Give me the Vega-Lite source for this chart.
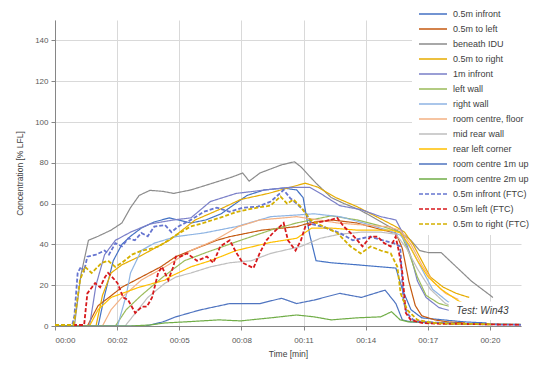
{
"$schema": "https://vega.github.io/schema/vega-lite/v6.json",
"width": 466, "height": 306,
"autosize": {"type": "none"},
"padding": {"left": 55, "top": 20, "right": 13, "bottom": 40},
"background": "white",
"config": {
 "view": {"stroke": null},
 "font": "Liberation Sans",
 "axis": {"labelFont": "Liberation Sans", "labelFontSize": 8, "labelColor": "#595959", "titleFont": "Liberation Sans", "titleFontSize": 8.5, "titleFontWeight": "normal", "titleColor": "#404040", "gridColor": "#D9D9D9", "domainColor": "#868686", "tickColor": "#868686", "tickSize": 4, "labelOverlap": false},
 "legend": {"symbolType": "M-2,0H2", "symbolSize": 196, "symbolOffset": 7, "symbolStrokeWidth": 1.3, "labelFont": "Liberation Sans", "labelFontSize": 9, "labelColor": "#404040", "labelOffset": 12, "rowPadding": 2, "padding": 6, "fillColor": "white", "labelLimit": 200}
},
"datasets": {
"series": [
{"s":"0.5m infront","t":0,"v":0},{"s":"0.5m infront","t":2.0,"v":0},{"s":"0.5m infront","t":2.3,"v":15},{"s":"0.5m infront","t":2.7,"v":32},{"s":"0.5m infront","t":3.1,"v":40},{"s":"0.5m infront","t":3.5,"v":44},{"s":"0.5m infront","t":4.0,"v":48},{"s":"0.5m infront","t":4.6,"v":51},{"s":"0.5m infront","t":5.3,"v":53},{"s":"0.5m infront","t":6.3,"v":50.5},{"s":"0.5m infront","t":7.0,"v":52},{"s":"0.5m infront","t":7.7,"v":55},{"s":"0.5m infront","t":8.9,"v":64},{"s":"0.5m infront","t":9.7,"v":66.7},{"s":"0.5m infront","t":10.6,"v":67.6},{"s":"0.5m infront","t":11.2,"v":66.7},{"s":"0.5m infront","t":11.5,"v":63},{"s":"0.5m infront","t":11.8,"v":45},{"s":"0.5m infront","t":12.1,"v":32},{"s":"0.5m infront","t":12.8,"v":31},{"s":"0.5m infront","t":14.0,"v":30},{"s":"0.5m infront","t":15.1,"v":29},{"s":"0.5m infront","t":15.8,"v":28.4},{"s":"0.5m infront","t":16.1,"v":18},{"s":"0.5m infront","t":16.5,"v":8},{"s":"0.5m infront","t":17.0,"v":4},{"s":"0.5m infront","t":18.0,"v":3},{"s":"0.5m infront","t":19.0,"v":2},{"s":"0.5m infront","t":20.0,"v":1.5},
{"s":"0.5m to left","t":0,"v":0},{"s":"0.5m to left","t":1.5,"v":0},{"s":"0.5m to left","t":2.0,"v":10},{"s":"0.5m to left","t":2.5,"v":14},{"s":"0.5m to left","t":3.1,"v":19},{"s":"0.5m to left","t":4.0,"v":24},{"s":"0.5m to left","t":4.9,"v":29},{"s":"0.5m to left","t":5.6,"v":34},{"s":"0.5m to left","t":6.3,"v":37},{"s":"0.5m to left","t":7.5,"v":42},{"s":"0.5m to left","t":8.1,"v":43.8},{"s":"0.5m to left","t":9.6,"v":47},{"s":"0.5m to left","t":11.2,"v":48.7},{"s":"0.5m to left","t":11.8,"v":50.5},{"s":"0.5m to left","t":12.8,"v":52},{"s":"0.5m to left","t":14.0,"v":50.5},{"s":"0.5m to left","t":15.2,"v":47},{"s":"0.5m to left","t":15.8,"v":45.6},{"s":"0.5m to left","t":16.1,"v":38},{"s":"0.5m to left","t":16.4,"v":22},{"s":"0.5m to left","t":16.7,"v":10},{"s":"0.5m to left","t":17.0,"v":5},{"s":"0.5m to left","t":17.6,"v":3},{"s":"0.5m to left","t":18.2,"v":2},{"s":"0.5m to left","t":19.0,"v":1.5},
{"s":"beneath IDU","t":0,"v":0},{"s":"beneath IDU","t":0.9,"v":0},{"s":"beneath IDU","t":1.2,"v":25},{"s":"beneath IDU","t":1.55,"v":42},{"s":"beneath IDU","t":2.0,"v":44},{"s":"beneath IDU","t":2.6,"v":47},{"s":"beneath IDU","t":3.1,"v":50.5},{"s":"beneath IDU","t":3.5,"v":58},{"s":"beneath IDU","t":3.9,"v":64},{"s":"beneath IDU","t":4.4,"v":66.5},{"s":"beneath IDU","t":5.0,"v":66},{"s":"beneath IDU","t":5.5,"v":65},{"s":"beneath IDU","t":6.3,"v":66.7},{"s":"beneath IDU","t":7.3,"v":70},{"s":"beneath IDU","t":8.2,"v":73},{"s":"beneath IDU","t":8.7,"v":75},{"s":"beneath IDU","t":9.0,"v":71},{"s":"beneath IDU","t":9.5,"v":75},{"s":"beneath IDU","t":10.5,"v":79},{"s":"beneath IDU","t":11.1,"v":80.5},{"s":"beneath IDU","t":11.4,"v":78},{"s":"beneath IDU","t":12.1,"v":70},{"s":"beneath IDU","t":12.8,"v":63},{"s":"beneath IDU","t":13.4,"v":60},{"s":"beneath IDU","t":14.1,"v":57},{"s":"beneath IDU","t":14.7,"v":53.6},{"s":"beneath IDU","t":15.5,"v":48.7},{"s":"beneath IDU","t":16.0,"v":46},{"s":"beneath IDU","t":16.5,"v":42},{"s":"beneath IDU","t":16.9,"v":37},{"s":"beneath IDU","t":17.3,"v":36},{"s":"beneath IDU","t":17.9,"v":36},{"s":"beneath IDU","t":18.5,"v":30},{"s":"beneath IDU","t":19.3,"v":22},{"s":"beneath IDU","t":20.3,"v":14},
{"s":"0.5m to right","t":0,"v":0},{"s":"0.5m to right","t":1.9,"v":0},{"s":"0.5m to right","t":2.2,"v":15},{"s":"0.5m to right","t":2.6,"v":26},{"s":"0.5m to right","t":3.1,"v":30},{"s":"0.5m to right","t":3.9,"v":34},{"s":"0.5m to right","t":4.6,"v":38},{"s":"0.5m to right","t":5.3,"v":42},{"s":"0.5m to right","t":6.5,"v":52},{"s":"0.5m to right","t":7.6,"v":57},{"s":"0.5m to right","t":8.6,"v":62},{"s":"0.5m to right","t":9.9,"v":65},{"s":"0.5m to right","t":10.9,"v":68},{"s":"0.5m to right","t":11.6,"v":70},{"s":"0.5m to right","t":12.2,"v":68},{"s":"0.5m to right","t":13.0,"v":63},{"s":"0.5m to right","t":14.0,"v":58.5},{"s":"0.5m to right","t":14.9,"v":53.6},{"s":"0.5m to right","t":15.8,"v":48.7},{"s":"0.5m to right","t":16.2,"v":46},{"s":"0.5m to right","t":16.6,"v":40},{"s":"0.5m to right","t":17.0,"v":32},{"s":"0.5m to right","t":17.4,"v":24},{"s":"0.5m to right","t":18.0,"v":19},{"s":"0.5m to right","t":18.6,"v":16},{"s":"0.5m to right","t":19.2,"v":14},
{"s":"1m infront","t":0,"v":0},{"s":"1m infront","t":1.6,"v":0},{"s":"1m infront","t":1.9,"v":20},{"s":"1m infront","t":2.3,"v":35},{"s":"1m infront","t":2.8,"v":42},{"s":"1m infront","t":3.5,"v":46},{"s":"1m infront","t":4.4,"v":50},{"s":"1m infront","t":5.5,"v":52},{"s":"1m infront","t":6.3,"v":53},{"s":"1m infront","t":7.2,"v":61},{"s":"1m infront","t":8.4,"v":65},{"s":"1m infront","t":9.2,"v":66},{"s":"1m infront","t":10.0,"v":67},{"s":"1m infront","t":10.9,"v":68},{"s":"1m infront","t":11.8,"v":68},{"s":"1m infront","t":12.3,"v":65},{"s":"1m infront","t":13.2,"v":59},{"s":"1m infront","t":14.2,"v":57},{"s":"1m infront","t":15.1,"v":53.6},{"s":"1m infront","t":15.8,"v":52},{"s":"1m infront","t":16.1,"v":46},{"s":"1m infront","t":16.5,"v":34},{"s":"1m infront","t":16.8,"v":22},{"s":"1m infront","t":17.2,"v":14},{"s":"1m infront","t":17.8,"v":9},{"s":"1m infront","t":18.5,"v":7},{"s":"1m infront","t":19.0,"v":6},
{"s":"left wall","t":0,"v":0},{"s":"left wall","t":2.8,"v":0},{"s":"left wall","t":3.3,"v":8},{"s":"left wall","t":4.0,"v":15},{"s":"left wall","t":5.0,"v":24},{"s":"left wall","t":6.0,"v":32},{"s":"left wall","t":7.0,"v":36},{"s":"left wall","t":8.6,"v":42},{"s":"left wall","t":10.0,"v":47},{"s":"left wall","t":11.2,"v":50.5},{"s":"left wall","t":12.8,"v":54},{"s":"left wall","t":14.0,"v":52},{"s":"left wall","t":15.2,"v":48.7},{"s":"left wall","t":16.0,"v":46},{"s":"left wall","t":16.4,"v":36},{"s":"left wall","t":16.8,"v":24},{"s":"left wall","t":17.2,"v":15},{"s":"left wall","t":17.8,"v":11},{"s":"left wall","t":18.5,"v":9},{"s":"left wall","t":19.0,"v":8},
{"s":"right wall","t":0,"v":0},{"s":"right wall","t":2.9,"v":0},{"s":"right wall","t":3.3,"v":15},{"s":"right wall","t":3.5,"v":26},{"s":"right wall","t":4.0,"v":37},{"s":"right wall","t":4.6,"v":40.6},{"s":"right wall","t":5.6,"v":43.8},{"s":"right wall","t":6.9,"v":45.6},{"s":"right wall","t":8.4,"v":48.7},{"s":"right wall","t":10.0,"v":53.6},{"s":"right wall","t":11.2,"v":54.4},{"s":"right wall","t":12.0,"v":55},{"s":"right wall","t":13.2,"v":53.6},{"s":"right wall","t":14.3,"v":50.5},{"s":"right wall","t":15.4,"v":47},{"s":"right wall","t":16.0,"v":44.6},{"s":"right wall","t":16.5,"v":38},{"s":"right wall","t":17.0,"v":28},{"s":"right wall","t":17.5,"v":18},{"s":"right wall","t":18.2,"v":12},{"s":"right wall","t":18.9,"v":9},
{"s":"room centre, floor","t":0,"v":0},{"s":"room centre, floor","t":2.2,"v":0},{"s":"room centre, floor","t":2.6,"v":8},{"s":"room centre, floor","t":3.1,"v":14},{"s":"room centre, floor","t":4.0,"v":22.5},{"s":"room centre, floor","t":5.1,"v":29},{"s":"room centre, floor","t":6.3,"v":37},{"s":"room centre, floor","t":7.4,"v":42},{"s":"room centre, floor","t":8.5,"v":48.7},{"s":"room centre, floor","t":9.5,"v":52},{"s":"room centre, floor","t":10.6,"v":53},{"s":"room centre, floor","t":11.2,"v":53.6},{"s":"room centre, floor","t":12.2,"v":52},{"s":"room centre, floor","t":13.1,"v":50.5},{"s":"room centre, floor","t":14.3,"v":49.5},{"s":"room centre, floor","t":15.4,"v":48.7},{"s":"room centre, floor","t":16.0,"v":47},{"s":"room centre, floor","t":16.5,"v":40},{"s":"room centre, floor","t":17.0,"v":30},{"s":"room centre, floor","t":17.5,"v":22},{"s":"room centre, floor","t":18.1,"v":16},{"s":"room centre, floor","t":18.7,"v":13},
{"s":"mid rear wall","t":0,"v":0},{"s":"mid rear wall","t":3.25,"v":0},{"s":"mid rear wall","t":3.7,"v":6},{"s":"mid rear wall","t":4.3,"v":14},{"s":"mid rear wall","t":5.1,"v":21},{"s":"mid rear wall","t":5.6,"v":24},{"s":"mid rear wall","t":6.3,"v":26},{"s":"mid rear wall","t":7.2,"v":29},{"s":"mid rear wall","t":8.1,"v":31},{"s":"mid rear wall","t":9.1,"v":32},{"s":"mid rear wall","t":10.0,"v":35.6},{"s":"mid rear wall","t":11.4,"v":39},{"s":"mid rear wall","t":12.3,"v":43},{"s":"mid rear wall","t":13.2,"v":45},{"s":"mid rear wall","t":14.2,"v":46},{"s":"mid rear wall","t":15.1,"v":46},{"s":"mid rear wall","t":15.8,"v":45},{"s":"mid rear wall","t":16.3,"v":38},{"s":"mid rear wall","t":16.8,"v":28},{"s":"mid rear wall","t":17.4,"v":18},{"s":"mid rear wall","t":18.1,"v":11},{"s":"mid rear wall","t":18.8,"v":8},
{"s":"rear left corner","t":0,"v":0},{"s":"rear left corner","t":1.6,"v":0},{"s":"rear left corner","t":2.0,"v":8},{"s":"rear left corner","t":2.6,"v":14},{"s":"rear left corner","t":3.9,"v":19},{"s":"rear left corner","t":5.1,"v":22.5},{"s":"rear left corner","t":5.3,"v":24},{"s":"rear left corner","t":6.3,"v":29},{"s":"rear left corner","t":7.2,"v":32},{"s":"rear left corner","t":8.4,"v":37},{"s":"rear left corner","t":10.0,"v":41},{"s":"rear left corner","t":11.2,"v":43},{"s":"rear left corner","t":11.9,"v":48},{"s":"rear left corner","t":12.8,"v":48},{"s":"rear left corner","t":14.0,"v":47},{"s":"rear left corner","t":15.6,"v":47},{"s":"rear left corner","t":16.0,"v":45.6},{"s":"rear left corner","t":16.4,"v":40},{"s":"rear left corner","t":16.8,"v":32},{"s":"rear left corner","t":17.3,"v":24},{"s":"rear left corner","t":17.9,"v":18},{"s":"rear left corner","t":18.6,"v":13},{"s":"rear left corner","t":19.1,"v":10},
{"s":"room centre 1m up","t":0,"v":0},{"s":"room centre 1m up","t":4.2,"v":0},{"s":"room centre 1m up","t":5.0,"v":2},{"s":"room centre 1m up","t":5.6,"v":4.5},{"s":"room centre 1m up","t":6.7,"v":7.8},{"s":"room centre 1m up","t":8.1,"v":11},{"s":"room centre 1m up","t":9.5,"v":11},{"s":"room centre 1m up","t":10.5,"v":13.6},{"s":"room centre 1m up","t":11.2,"v":11},{"s":"room centre 1m up","t":12.0,"v":12.7},{"s":"room centre 1m up","t":13.2,"v":16},{"s":"room centre 1m up","t":14.2,"v":14},{"s":"room centre 1m up","t":15.3,"v":17.6},{"s":"room centre 1m up","t":15.8,"v":11},{"s":"room centre 1m up","t":16.1,"v":3},{"s":"room centre 1m up","t":16.5,"v":2},{"s":"room centre 1m up","t":17.5,"v":1.5},{"s":"room centre 1m up","t":18.5,"v":1},
{"s":"room centre 2m up","t":0,"v":0},{"s":"room centre 2m up","t":3.5,"v":0},{"s":"room centre 2m up","t":4.4,"v":0.5},{"s":"room centre 2m up","t":5.1,"v":1.5},{"s":"room centre 2m up","t":6.0,"v":2},{"s":"room centre 2m up","t":7.6,"v":3},{"s":"room centre 2m up","t":8.6,"v":2.5},{"s":"room centre 2m up","t":10.0,"v":4},{"s":"room centre 2m up","t":11.2,"v":5.4},{"s":"room centre 2m up","t":12.0,"v":4.5},{"s":"room centre 2m up","t":12.8,"v":3},{"s":"room centre 2m up","t":14.0,"v":4},{"s":"room centre 2m up","t":15.1,"v":4.5},{"s":"room centre 2m up","t":15.6,"v":7},{"s":"room centre 2m up","t":16.0,"v":3},{"s":"room centre 2m up","t":16.4,"v":2},{"s":"room centre 2m up","t":17.0,"v":2},{"s":"room centre 2m up","t":18.0,"v":1.5},{"s":"room centre 2m up","t":19.0,"v":1},{"s":"room centre 2m up","t":20.0,"v":1},{"s":"room centre 2m up","t":21.6,"v":0.8},
{"s":"0.5m infront (FTC)","t":0,"v":0.5},{"s":"0.5m infront (FTC)","t":0.8,"v":0.5},{"s":"0.5m infront (FTC)","t":0.9,"v":5},{"s":"0.5m infront (FTC)","t":1.05,"v":26},{"s":"0.5m infront (FTC)","t":1.2,"v":29},{"s":"0.5m infront (FTC)","t":1.35,"v":27},{"s":"0.5m infront (FTC)","t":1.5,"v":34},{"s":"0.5m infront (FTC)","t":1.9,"v":35},{"s":"0.5m infront (FTC)","t":2.3,"v":37},{"s":"0.5m infront (FTC)","t":2.5,"v":35},{"s":"0.5m infront (FTC)","t":2.8,"v":40.6},{"s":"0.5m infront (FTC)","t":3.1,"v":39},{"s":"0.5m infront (FTC)","t":3.4,"v":43},{"s":"0.5m infront (FTC)","t":3.7,"v":42},{"s":"0.5m infront (FTC)","t":4.0,"v":45.6},{"s":"0.5m infront (FTC)","t":4.3,"v":44},{"s":"0.5m infront (FTC)","t":4.6,"v":48.7},{"s":"0.5m infront (FTC)","t":5.1,"v":49.5},{"s":"0.5m infront (FTC)","t":5.4,"v":46},{"s":"0.5m infront (FTC)","t":5.7,"v":48.7},{"s":"0.5m infront (FTC)","t":6.3,"v":52},{"s":"0.5m infront (FTC)","t":6.6,"v":54},{"s":"0.5m infront (FTC)","t":6.9,"v":56},{"s":"0.5m infront (FTC)","t":7.5,"v":58},{"s":"0.5m infront (FTC)","t":8.1,"v":56},{"s":"0.5m infront (FTC)","t":8.7,"v":58},{"s":"0.5m infront (FTC)","t":9.4,"v":58.5},{"s":"0.5m infront (FTC)","t":10.0,"v":61},{"s":"0.5m infront (FTC)","t":10.6,"v":66.7},{"s":"0.5m infront (FTC)","t":10.9,"v":62.7},{"s":"0.5m infront (FTC)","t":11.2,"v":60},{"s":"0.5m infront (FTC)","t":11.6,"v":56},{"s":"0.5m infront (FTC)","t":11.9,"v":50},{"s":"0.5m infront (FTC)","t":12.4,"v":48.7},{"s":"0.5m infront (FTC)","t":13.2,"v":45.6},{"s":"0.5m infront (FTC)","t":13.8,"v":42},{"s":"0.5m infront (FTC)","t":14.6,"v":43.8},{"s":"0.5m infront (FTC)","t":15.2,"v":42},{"s":"0.5m infront (FTC)","t":15.7,"v":40.6},{"s":"0.5m infront (FTC)","t":16.0,"v":39},{"s":"0.5m infront (FTC)","t":16.15,"v":12.7},{"s":"0.5m infront (FTC)","t":16.3,"v":6.4},{"s":"0.5m infront (FTC)","t":16.6,"v":3},{"s":"0.5m infront (FTC)","t":17.0,"v":2},{"s":"0.5m infront (FTC)","t":18.0,"v":1.5},{"s":"0.5m infront (FTC)","t":19.0,"v":1},{"s":"0.5m infront (FTC)","t":20.0,"v":0.8},{"s":"0.5m infront (FTC)","t":21.6,"v":0.6},
{"s":"0.5m left (FTC)","t":0,"v":0.5},{"s":"0.5m left (FTC)","t":1.35,"v":0.5},{"s":"0.5m left (FTC)","t":1.5,"v":16},{"s":"0.5m left (FTC)","t":1.86,"v":21},{"s":"0.5m left (FTC)","t":2.09,"v":19},{"s":"0.5m left (FTC)","t":2.32,"v":24},{"s":"0.5m left (FTC)","t":2.46,"v":26},{"s":"0.5m left (FTC)","t":2.65,"v":24},{"s":"0.5m left (FTC)","t":2.9,"v":21},{"s":"0.5m left (FTC)","t":3.16,"v":14},{"s":"0.5m left (FTC)","t":3.39,"v":12.7},{"s":"0.5m left (FTC)","t":3.72,"v":6.4},{"s":"0.5m left (FTC)","t":4.03,"v":9.5},{"s":"0.5m left (FTC)","t":4.26,"v":9.5},{"s":"0.5m left (FTC)","t":4.5,"v":14},{"s":"0.5m left (FTC)","t":4.78,"v":26},{"s":"0.5m left (FTC)","t":4.96,"v":29},{"s":"0.5m left (FTC)","t":5.25,"v":22.5},{"s":"0.5m left (FTC)","t":5.48,"v":29},{"s":"0.5m left (FTC)","t":5.6,"v":34},{"s":"0.5m left (FTC)","t":5.8,"v":34},{"s":"0.5m left (FTC)","t":6.12,"v":35.6},{"s":"0.5m left (FTC)","t":6.58,"v":32},{"s":"0.5m left (FTC)","t":7.04,"v":34},{"s":"0.5m left (FTC)","t":7.34,"v":31},{"s":"0.5m left (FTC)","t":7.66,"v":39},{"s":"0.5m left (FTC)","t":8.1,"v":42},{"s":"0.5m left (FTC)","t":8.4,"v":36},{"s":"0.5m left (FTC)","t":8.7,"v":31},{"s":"0.5m left (FTC)","t":9.2,"v":28.4},{"s":"0.5m left (FTC)","t":9.5,"v":36},{"s":"0.5m left (FTC)","t":9.8,"v":42},{"s":"0.5m left (FTC)","t":10.1,"v":45.6},{"s":"0.5m left (FTC)","t":10.6,"v":50.5},{"s":"0.5m left (FTC)","t":10.8,"v":42},{"s":"0.5m left (FTC)","t":11.15,"v":37},{"s":"0.5m left (FTC)","t":11.4,"v":42},{"s":"0.5m left (FTC)","t":11.6,"v":48.7},{"s":"0.5m left (FTC)","t":12.0,"v":50.5},{"s":"0.5m left (FTC)","t":12.31,"v":51},{"s":"0.5m left (FTC)","t":12.77,"v":52},{"s":"0.5m left (FTC)","t":13.08,"v":53},{"s":"0.5m left (FTC)","t":13.39,"v":48.7},{"s":"0.5m left (FTC)","t":13.7,"v":45.6},{"s":"0.5m left (FTC)","t":14.02,"v":42},{"s":"0.5m left (FTC)","t":14.25,"v":39},{"s":"0.5m left (FTC)","t":14.63,"v":43.8},{"s":"0.5m left (FTC)","t":14.94,"v":43.8},{"s":"0.5m left (FTC)","t":15.26,"v":40.6},{"s":"0.5m left (FTC)","t":15.56,"v":39},{"s":"0.5m left (FTC)","t":15.79,"v":43.8},{"s":"0.5m left (FTC)","t":15.93,"v":37},{"s":"0.5m left (FTC)","t":16.1,"v":26},{"s":"0.5m left (FTC)","t":16.26,"v":6.4},{"s":"0.5m left (FTC)","t":16.49,"v":3},{"s":"0.5m left (FTC)","t":17.0,"v":1.5},{"s":"0.5m left (FTC)","t":18.0,"v":1},{"s":"0.5m left (FTC)","t":19.0,"v":1},{"s":"0.5m left (FTC)","t":20.0,"v":0.8},{"s":"0.5m left (FTC)","t":21.6,"v":0.6},
{"s":"0.5m to right (FTC)","t":0,"v":0.5},{"s":"0.5m to right (FTC)","t":0.85,"v":0.5},{"s":"0.5m to right (FTC)","t":0.93,"v":5},{"s":"0.5m to right (FTC)","t":1.16,"v":22.5},{"s":"0.5m to right (FTC)","t":1.39,"v":29},{"s":"0.5m to right (FTC)","t":1.7,"v":26},{"s":"0.5m to right (FTC)","t":2.17,"v":31},{"s":"0.5m to right (FTC)","t":2.46,"v":32},{"s":"0.5m to right (FTC)","t":2.79,"v":29},{"s":"0.5m to right (FTC)","t":3.1,"v":31},{"s":"0.5m to right (FTC)","t":3.57,"v":35},{"s":"0.5m to right (FTC)","t":4.03,"v":37},{"s":"0.5m to right (FTC)","t":4.5,"v":38},{"s":"0.5m to right (FTC)","t":4.8,"v":39},{"s":"0.5m to right (FTC)","t":5.25,"v":42},{"s":"0.5m to right (FTC)","t":5.5,"v":43.8},{"s":"0.5m to right (FTC)","t":6.27,"v":48.7},{"s":"0.5m to right (FTC)","t":6.88,"v":50.5},{"s":"0.5m to right (FTC)","t":7.8,"v":53.6},{"s":"0.5m to right (FTC)","t":8.44,"v":56},{"s":"0.5m to right (FTC)","t":9.37,"v":58},{"s":"0.5m to right (FTC)","t":9.99,"v":59},{"s":"0.5m to right (FTC)","t":10.45,"v":63.5},{"s":"0.5m to right (FTC)","t":10.76,"v":60},{"s":"0.5m to right (FTC)","t":11.06,"v":62},{"s":"0.5m to right (FTC)","t":11.38,"v":58.5},{"s":"0.5m to right (FTC)","t":11.84,"v":52},{"s":"0.5m to right (FTC)","t":12.45,"v":48.7},{"s":"0.5m to right (FTC)","t":13.08,"v":45.6},{"s":"0.5m to right (FTC)","t":13.7,"v":39},{"s":"0.5m to right (FTC)","t":14.17,"v":35.6},{"s":"0.5m to right (FTC)","t":14.63,"v":39},{"s":"0.5m to right (FTC)","t":15.1,"v":37},{"s":"0.5m to right (FTC)","t":15.56,"v":35.6},{"s":"0.5m to right (FTC)","t":15.87,"v":29},{"s":"0.5m to right (FTC)","t":16.02,"v":16},{"s":"0.5m to right (FTC)","t":16.33,"v":7.8},{"s":"0.5m to right (FTC)","t":16.8,"v":3},{"s":"0.5m to right (FTC)","t":17.5,"v":1.5},{"s":"0.5m to right (FTC)","t":18.5,"v":1},{"s":"0.5m to right (FTC)","t":19.5,"v":1},{"s":"0.5m to right (FTC)","t":20.2,"v":0.8}
]
},
"data": {"name": "series"},
"layer": [
 {
  "transform": [{"filter": "indexof(datum.s, 'FTC') < 0"}],
  "mark": {"type": "line", "strokeWidth": 1.2, "clip": true},
  "encoding": {
   "x": {"field": "t", "type": "quantitative", "scale": {"domain": [0, 21.6], "nice": false, "zero": false},
    "axis": {"values": [0, 2.88, 5.76, 8.64, 11.52, 14.4, 17.28, 20.16], "labelExpr": "'00:' + (floor(datum.value + 0.001) < 10 ? '0' : '') + floor(datum.value + 0.001)", "title": "Time [min]", "labelPadding": 6, "titlePadding": 5, "grid": true}},
   "y": {"field": "v", "type": "quantitative", "scale": {"domain": [0, 150], "nice": false},
    "axis": {"values": [0, 20, 40, 60, 80, 100, 120, 140], "title": "Concentration [% LFL]", "labelPadding": 3, "titlePadding": 10, "grid": true}},
   "color": {"field": "s", "type": "nominal",
    "scale": {"domain": ["0.5m infront", "0.5m to left", "beneath IDU", "0.5m to right", "1m infront", "left wall", "right wall", "room centre, floor", "mid rear wall", "rear left corner", "room centre 1m up", "room centre 2m up", "0.5m infront (FTC)", "0.5m left (FTC)", "0.5m to right (FTC)"],
     "range": ["#4472C4", "#C55A11", "#8C8C8C", "#E6AC00", "#7A7FC8", "#9BBB59", "#8EB4E3", "#F4B183", "#BFBFBF", "#FFC000", "#4F74C0", "#70AD47", "#6675D0", "#D7191C", "#D4B000"]},
    "legend": {"title": null, "orient": "none", "legendX": 357, "legendY": -20}},
   "strokeDash": {"field": "s", "type": "nominal",
    "scale": {"domain": ["0.5m infront", "0.5m to left", "beneath IDU", "0.5m to right", "1m infront", "left wall", "right wall", "room centre, floor", "mid rear wall", "rear left corner", "room centre 1m up", "room centre 2m up", "0.5m infront (FTC)", "0.5m left (FTC)", "0.5m to right (FTC)"],
     "range": [[1, 0], [1, 0], [1, 0], [1, 0], [1, 0], [1, 0], [1, 0], [1, 0], [1, 0], [1, 0], [1, 0], [1, 0], [4, 2], [4, 2], [4, 2]]},
    "legend": {"title": null, "orient": "none", "legendX": 357, "legendY": -20}}
  }
 },
 {
  "transform": [{"filter": "indexof(datum.s, 'FTC') >= 0"}],
  "mark": {"type": "line", "strokeWidth": 1.8, "clip": true},
  "encoding": {
   "x": {"field": "t", "type": "quantitative"},
   "y": {"field": "v", "type": "quantitative"},
   "color": {"field": "s", "type": "nominal"},
   "strokeDash": {"field": "s", "type": "nominal"}
  }
 },
 {
  "data": {"values": [{"x1": 18.25, "x2": 21.6, "y1": 3, "y2": 12}]},
  "mark": {"type": "rect", "fill": "white"},
  "encoding": {
   "x": {"field": "x1", "type": "quantitative"},
   "x2": {"field": "x2"},
   "y": {"field": "y1", "type": "quantitative"},
   "y2": {"field": "y2"}
  }
 },
 {
  "data": {"values": [{"label": "Test: Win43", "t": 18.6, "v": 7.4}]},
  "mark": {"type": "text", "fontStyle": "italic", "align": "left", "baseline": "middle", "fontSize": 10, "color": "#404040", "font": "Liberation Sans"},
  "encoding": {
   "x": {"field": "t", "type": "quantitative"},
   "y": {"field": "v", "type": "quantitative"},
   "text": {"field": "label"}
  }
 }
]
}
